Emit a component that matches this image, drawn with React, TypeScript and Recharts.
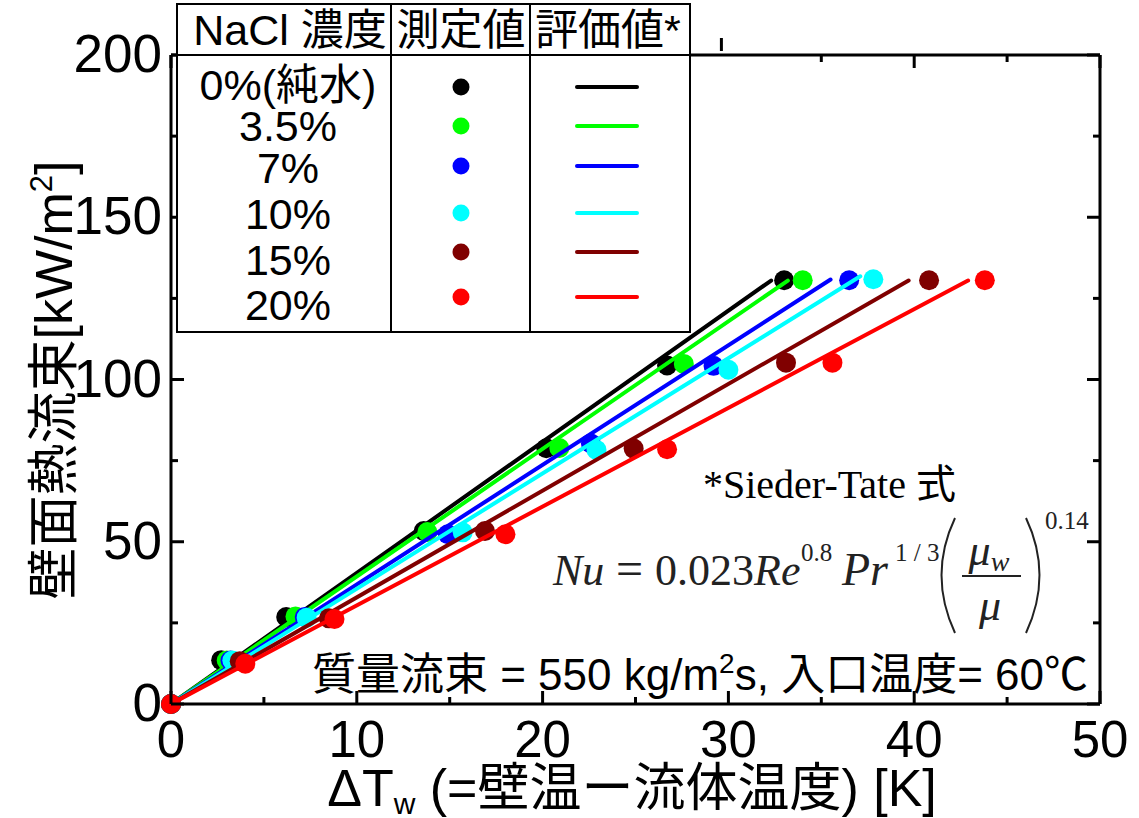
import { ScatterChart, Scatter, XAxis, YAxis, Legend, Customized } from 'recharts';

const SANS = "'Liberation Sans', Arial, 'Noto Sans CJK JP', sans-serif";
const SERIF = "'Liberation Serif', 'Times New Roman', 'Noto Sans CJK JP', serif";

// NaCl concentration series
const names = ['0%(純水)', '3.5%', '7%', '10%', '15%', '20%'];
const colors = ['#000000', '#00ff00', '#0000ff', '#00ffff', '#800000', '#ff0000'];

// measured values: ΔTw [K] and wall heat flux [kW/m2]
const dT0 = [0, 2.7, 6.2, 13.6, 20.2, 26.7, 33.0];
const q0 = [0, 13.5, 26.8, 53.3, 78.8, 104.3, 130.6];
const dT35 = [0, 3.0, 6.7, 13.8, 20.9, 27.6, 34.0];
const q35 = [0, 13.4, 27.0, 53.0, 78.9, 104.8, 130.6];
const dT7 = [0, 3.2, 7.2, 14.9, 22.6, 29.2, 36.5];
const q7 = [0, 13.4, 26.8, 52.3, 80.3, 104.2, 130.6];
const dT10 = [0, 3.3, 7.3, 15.7, 22.9, 30.0, 37.8];
const q10 = [0, 13.4, 26.6, 52.9, 78.3, 103.0, 130.9];
const dT15 = [0, 3.7, 8.5, 16.9, 24.9, 33.1, 40.8];
const q15 = [0, 13.2, 26.4, 53.3, 78.7, 105.2, 130.6];
const dT20 = [0, 4.0, 8.8, 18.0, 26.7, 35.6, 43.8];
const q20 = [0, 12.4, 26.2, 52.3, 78.5, 105.2, 130.6];

// Sieder-Tate evaluated lines: from origin to end point
const evalEndX = [32.3, 33.2, 35.5, 37.1, 39.7, 42.9];
const evalEndY = [130.5, 130.5, 130.8, 131.8, 130.5, 130.5];

const xTicks = [0, 5, 10, 15, 20, 25, 30, 35, 40, 45, 50];
const yTicks = [0, 25, 50, 75, 100, 125, 150, 175, 200];

const measuredX = [dT0, dT35, dT7, dT10, dT15, dT20];
const measuredY = [q0, q35, q7, q10, q15, q20];

const series = names.map((name, i) => ({
  name,
  color: colors[i],
  points: measuredX[i].map((x, j) => ({ x, y: measuredY[i][j] })),
  line: [
    { x: 0, y: 0 },
    { x: evalEndX[i], y: evalEndY[i] },
  ],
}));

// legend table layout (px inside the legend box)
const legendDotY = [84, 123, 163, 210, 249, 294];
const legendTextY = [97, 138, 180, 226, 272, 317];

function BottomTick(props: any) {
  const { x, y, payload } = props;
  const major = payload.value % 10 === 0;
  return (
    <g>
      <line x1={x} x2={x} y1={y} y2={y - (major ? 13 : 7)} stroke="#000" strokeWidth={3} />
      {major && (
        <text x={x} y={y + 53} textAnchor="middle" fontSize={51} fontFamily={SANS} fill="#000">
          {payload.value}
        </text>
      )}
    </g>
  );
}

function TopTick(props: any) {
  const { x, y, payload } = props;
  const major = payload.value % 10 === 0;
  const len = major ? 13 : 7;
  // the 30 tick sticks out above the frame in the original
  if (payload.value === 30) {
    return <line x1={x - 7} x2={x - 7} y1={y - 4} y2={y - 17} stroke="#000" strokeWidth={3} />;
  }
  return <line x1={x} x2={x} y1={y} y2={y + len} stroke="#000" strokeWidth={3} />;
}

function LeftTick(props: any) {
  const { x, y, payload } = props;
  const major = payload.value % 50 === 0;
  return (
    <g>
      <line x1={x} x2={x + (major ? 13 : 7)} y1={y} y2={y} stroke="#000" strokeWidth={3} />
      {major && (
        <text x={x - 9} y={y + 17} textAnchor="end" fontSize={53} fontFamily={SANS} fill="#000">
          {payload.value}
        </text>
      )}
    </g>
  );
}

function RightTick(props: any) {
  const { x, y, payload } = props;
  const major = payload.value % 50 === 0;
  return <line x1={x} x2={x - (major ? 13 : 7)} y1={y} y2={y} stroke="#000" strokeWidth={3} />;
}

function LegendTable() {
  return (
    <svg width={516} height={331} style={{ display: 'block' }}>
      <g fontFamily={SANS} fontSize={43} fill="#000">
        <rect x={1} y={1} width={513} height={328} fill="#fff" stroke="#000" strokeWidth={2} />
        <line x1={1} x2={514} y1={52} y2={52} stroke="#000" strokeWidth={2} />
        <line x1={215} x2={215} y1={1} y2={329} stroke="#000" strokeWidth={2} />
        <line x1={354} x2={354} y1={1} y2={329} stroke="#000" strokeWidth={2} />
        <text x={114} y={42} textAnchor="middle">NaCl 濃度</text>
        <text x={285} y={42} textAnchor="middle">測定値</text>
        <text x={432} y={42} textAnchor="middle">評価値*</text>
        {series.map((s, i) => (
          <g key={s.name}>
            <text x={112} y={legendTextY[i]} textAnchor="middle">{s.name}</text>
            <circle cx={285} cy={legendDotY[i]} r={8.5} fill={s.color} />
            <line x1={401} x2={461} y1={legendDotY[i]} y2={legendDotY[i]} stroke={s.color} strokeWidth={4} strokeLinecap="round" />
          </g>
        ))}
      </g>
    </svg>
  );
}

function Annotations() {
  return (
    <g>
      {/* axis titles */}
      <text transform="translate(72,380) rotate(-90)" textAnchor="middle" fontSize={52} fontFamily={SANS} fill="#000">
        壁面熱流束[kW/m<tspan dy={-20} fontSize={31}>2</tspan>
        <tspan dy={20}>]</tspan>
      </text>
      <text x={632} y={806} textAnchor="middle" fontSize={52} fontFamily={SANS} fill="#000">
        ΔT<tspan fontSize={30} dy={8}>w</tspan>
        <tspan dy={-8}> (=壁温ー流体温度) [K]</tspan>
      </text>

      <text x={703} y={498} fontFamily={SERIF} fontSize={40} fill="#000">*Sieder-Tate 式</text>

      <g fontFamily={SERIF} fill="#222">
        <text x={553} y={585} fontSize={44} fontStyle="italic">Nu</text>
        <text x={616} y={585} fontSize={48}>=</text>
        <text x={655} y={585} fontSize={44}>0.023</text>
        <text x={754} y={585} fontSize={44} fontStyle="italic">Re</text>
        <text x={801} y={561} fontSize={25}>0.8</text>
        <text x={842} y={585} fontSize={46} fontStyle="italic">Pr</text>
        <text x={895} y={561} fontSize={25}>1 / 3</text>
        <path d="M 955 518 Q 928 575 955 633" fill="none" stroke="#222" strokeWidth={2} />
        <path d="M 1026 518 Q 1053 575 1026 633" fill="none" stroke="#222" strokeWidth={2} />
        <text x={989} y={565} textAnchor="middle" fontSize={44} fontStyle="italic">
          μ<tspan fontSize={28} dy={6}>w</tspan>
        </text>
        <line x1={962} x2={1021} y1={576} y2={576} stroke="#222" strokeWidth={2} />
        <text x={990} y={620} textAnchor="middle" fontSize={44} fontStyle="italic">μ</text>
        <text x={1045} y={529} fontSize={25}>0.14</text>
      </g>

      <text x={1088} y={690} textAnchor="end" fontSize={44} fontFamily={SANS} fill="#000">
        質量流束 = 550 kg/m<tspan dy={-17} fontSize={28}>2</tspan>
        <tspan dy={17}>s, 入口温度= 60℃</tspan>
      </text>
    </g>
  );
}

export default function App() {
  return (
    <div style={{ position: 'absolute', left: 0, top: 0, width: 1139, height: 818, background: '#fff' }}>
      <ScatterChart width={1139} height={818} margin={{ top: 54, right: 38, bottom: 0, left: 0 }}>
        <XAxis
          dataKey="x"
          type="number"
          domain={[0, 50]}
          ticks={xTicks}
          interval={0}
          height={114}
          tickSize={0}
          tickMargin={0}
          tickLine={false}
          tick={<BottomTick />}
          axisLine={{ stroke: '#000', strokeWidth: 3 }}
        />
        <XAxis
          xAxisId="top"
          dataKey="x"
          orientation="top"
          type="number"
          domain={[0, 50]}
          ticks={xTicks}
          interval={0}
          height={1}
          tickSize={0}
          tickMargin={0}
          tickLine={false}
          tick={<TopTick />}
          axisLine={{ stroke: '#000', strokeWidth: 3 }}
        />
        <YAxis
          dataKey="y"
          type="number"
          domain={[0, 200]}
          ticks={yTicks}
          interval={0}
          width={171}
          tickSize={0}
          tickMargin={0}
          tickLine={false}
          tick={<LeftTick />}
          axisLine={{ stroke: '#000', strokeWidth: 3 }}
        />
        <YAxis
          yAxisId="right"
          dataKey="y"
          orientation="right"
          type="number"
          domain={[0, 200]}
          ticks={yTicks}
          interval={0}
          width={1}
          tickSize={0}
          tickMargin={0}
          tickLine={false}
          tick={<RightTick />}
          axisLine={{ stroke: '#000', strokeWidth: 3 }}
        />
        {series.flatMap((s) => [
          <Scatter
            key={s.name + '-pts'}
            name={s.name}
            data={s.points}
            fill={s.color}
            isAnimationActive={false}
            shape={(p: any) => <circle cx={p.cx} cy={p.cy} r={10} fill={s.color} />}
          />,
          <Scatter
            key={s.name + '-line'}
            name={s.name + ' 評価値'}
            data={s.line}
            isAnimationActive={false}
            legendType="none"
            line={{ stroke: s.color, strokeWidth: 4, strokeLinecap: 'round' }}
            shape={() => <g />}
          />,
        ])}
        {/* invisible series that keeps the top and right frame axes alive */}
        <Scatter
          xAxisId="top"
          yAxisId="right"
          data={series[0].line}
          isAnimationActive={false}
          legendType="none"
          shape={() => <g />}
        />
        <Customized component={<Annotations />} />
        <Legend
          layout="vertical"
          align="center"
          verticalAlign="middle"
          content={<LegendTable />}
          wrapperStyle={{ left: 176, top: 3, width: 516, height: 331 }}
        />
      </ScatterChart>
    </div>
  );
}
